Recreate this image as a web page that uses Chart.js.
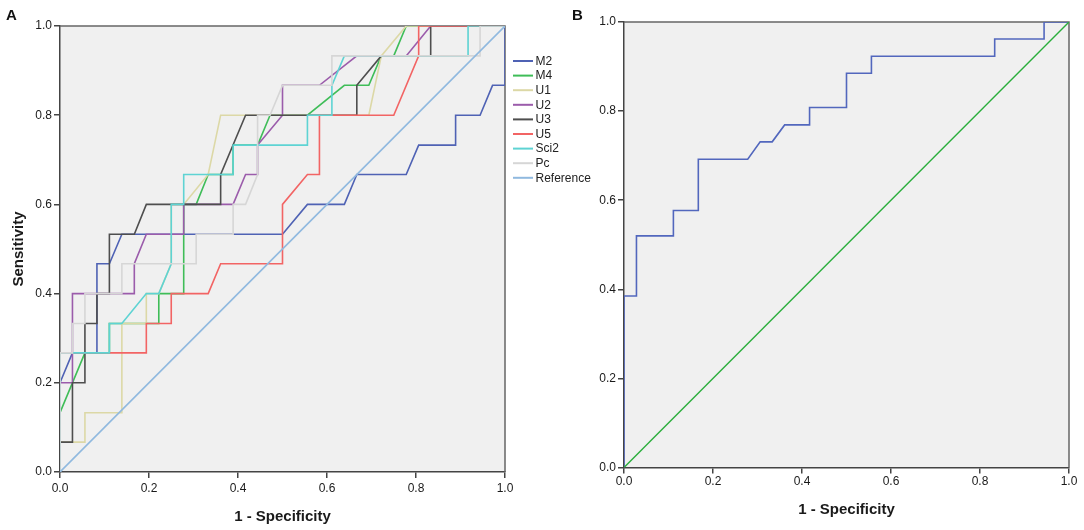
<!DOCTYPE html>
<html><head><meta charset="utf-8">
<script src="https://cdn.jsdelivr.net/npm/chart.js@4.4.0/dist/chart.umd.min.js"></script>
<style>
html,body{margin:0;padding:0;background:#fff;width:1084px;height:530px;overflow:hidden;font-family:"Liberation Sans",Arial,sans-serif;}
#ca{position:absolute;left:0;top:0;}
#cb{position:absolute;left:570px;top:0;}
.lab{position:absolute;font:bold 15px "Liberation Sans",Arial,sans-serif;line-height:15px;color:#111;}
</style></head><body>
<canvas id="ca" width="610" height="530"></canvas>
<canvas id="cb" width="514" height="530"></canvas>
<div class="lab" style="left:6px;top:7px">A</div>
<div class="lab" style="left:572px;top:7px">B</div>
<script>
// ---------- data: panel A (1 - specificity, sensitivity) ----------
const seriesNames = ['M2','M4','U1','U2','U3','U5','Sci2','Pc','Reference'];
const seriesColors = ['#4f62b4','#3fbd58','#dcd8a6','#9b5cab','#4e4e4e','#f26464','#5ed3d3','#d6d6d6','#90b9df'];

const M2_x = [0,0,0.028,0.083,0.083,0.111,0.139,0.5,0.556,0.639,0.667,0.778,0.806,0.889,0.889,0.944,0.972,1,1];
const M2_y = [0,0.2,0.267,0.267,0.467,0.467,0.533,0.533,0.6,0.6,0.667,0.667,0.733,0.733,0.8,0.8,0.867,0.867,1];

const M4_x = [0,0,0.056,0.111,0.111,0.222,0.222,0.278,0.278,0.306,0.333,0.389,0.389,0.444,0.472,0.556,0.639,0.694,0.722,0.75,0.778,1];
const M4_y = [0,0.133,0.267,0.267,0.333,0.333,0.4,0.4,0.6,0.6,0.667,0.667,0.733,0.733,0.8,0.8,0.867,0.867,0.933,0.933,1,1];

const U1_x = [0,0,0.056,0.056,0.139,0.139,0.194,0.194,0.222,0.25,0.25,0.278,0.333,0.361,0.417,0.694,0.722,0.778,1];
const U1_y = [0,0.067,0.067,0.133,0.133,0.333,0.333,0.4,0.4,0.467,0.6,0.6,0.667,0.8,0.8,0.8,0.933,1,1];

const U2_x = [0,0,0.028,0.028,0.056,0.167,0.167,0.194,0.278,0.278,0.389,0.417,0.444,0.444,0.5,0.5,0.583,0.667,0.778,0.833,1];
const U2_y = [0,0.2,0.2,0.4,0.4,0.4,0.467,0.533,0.533,0.6,0.6,0.667,0.667,0.733,0.8,0.867,0.867,0.933,0.933,1,1];

const U3_x = [0,0,0.028,0.028,0.056,0.056,0.083,0.083,0.111,0.111,0.167,0.194,0.361,0.361,0.417,0.667,0.667,0.722,0.833,0.833,1];
const U3_y = [0,0.067,0.067,0.2,0.2,0.333,0.333,0.4,0.4,0.533,0.533,0.6,0.6,0.667,0.8,0.8,0.867,0.933,0.933,1,1];

const U5_x = [0,0,0.194,0.194,0.25,0.25,0.333,0.361,0.5,0.5,0.556,0.583,0.583,0.75,0.806,0.806,1];
const U5_y = [0,0.267,0.267,0.333,0.333,0.4,0.4,0.467,0.467,0.6,0.667,0.667,0.8,0.8,0.933,1,1];

const Sci2_x = [0,0,0.111,0.111,0.139,0.194,0.222,0.25,0.25,0.278,0.278,0.389,0.389,0.556,0.556,0.611,0.611,0.639,0.917,0.917,1];
const Sci2_y = [0,0.267,0.267,0.333,0.333,0.4,0.4,0.467,0.6,0.6,0.667,0.667,0.733,0.733,0.8,0.8,0.867,0.933,0.933,1,1];

const Pc_x = [0,0,0.028,0.028,0.056,0.056,0.139,0.139,0.306,0.306,0.389,0.389,0.417,0.444,0.444,0.472,0.5,0.611,0.611,0.944,0.944,1];
const Pc_y = [0,0.267,0.267,0.333,0.333,0.4,0.4,0.467,0.467,0.533,0.533,0.6,0.6,0.667,0.8,0.8,0.867,0.867,0.933,0.933,1,1];

const Ref_x = [0,1];
const Ref_y = [0,1];

// ---------- data: panel B ----------
const B_x = [0,0,0.028,0.028,0.111,0.111,0.167,0.167,0.278,0.306,0.333,0.361,0.417,0.417,0.5,0.5,0.556,0.556,0.833,0.833,0.944,0.944,1];
const B_y = [0,0.385,0.385,0.52,0.52,0.577,0.577,0.692,0.692,0.731,0.731,0.769,0.769,0.808,0.808,0.885,0.885,0.923,0.923,0.962,0.962,1,1];
const BRef_x = [0,1];
const BRef_y = [0,1];

const tickLabels = ['0.0','0.2','0.4','0.6','0.8','1.0'];
const axisTitle = '1 - Specificity';
const yTitle = 'Sensitivity';

// ---------- helpers ----------
const FONT = '"Liberation Sans", Arial, sans-serif';
const pts = (xs, ys) => xs.map((x, i) => ({x: x, y: ys[i]}));

const framePlugin = {
  id: 'frame',
  beforeDraw(chart) {
    const {ctx, chartArea: a} = chart;
    ctx.save();
    ctx.fillStyle = '#f0f0f0';
    ctx.fillRect(a.left, a.top, a.right - a.left, a.bottom - a.top);
    ctx.restore();
  },
  beforeDatasetsDraw(chart) {
    const {ctx, chartArea: a} = chart;
    ctx.save();
    ctx.strokeStyle = '#666';
    ctx.lineWidth = 1.5;
    ctx.beginPath();
    ctx.moveTo(a.left, a.top);
    ctx.lineTo(a.right, a.top);
    ctx.lineTo(a.right, a.bottom);
    ctx.stroke();
    ctx.restore();
  }
};

const legendPlugin = {
  id: 'sideLegend',
  afterDraw(chart) {
    const ctx = chart.ctx;
    ctx.save();
    ctx.font = '12px ' + FONT;
    ctx.textBaseline = 'middle';
    ctx.textAlign = 'left';
    seriesNames.forEach((name, i) => {
      const y = 61 + i * 14.6;
      ctx.strokeStyle = seriesColors[i];
      ctx.lineWidth = 2;
      ctx.beginPath();
      ctx.moveTo(513, y);
      ctx.lineTo(533, y);
      ctx.stroke();
      ctx.fillStyle = '#222';
      ctx.fillText(name, 535.5, y + 0.5);
    });
    ctx.restore();
  }
};

function scales(yWidth, xHeight, xTickPad, showYTitle, xTitlePadBottom) {
  const common = {
    type: 'linear', min: 0, max: 1,
    grid: {display: true, drawOnChartArea: false, drawTicks: true, tickLength: 6, color: '#444', lineWidth: 1.5},
    border: {display: true, color: '#444', width: 1.5},
  };
  return {
    x: Object.assign({}, common, {
      ticks: {stepSize: 0.2, padding: xTickPad, color: '#1a1a1a', font: {family: FONT, size: 12},
              maxRotation: 0, callback: v => tickLabels[Math.round(v * 5)]},
      title: {display: true, text: axisTitle, color: '#1a1a1a', font: {family: FONT, size: 15, weight: 'bold'},
              padding: {top: 0, bottom: xTitlePadBottom}},
      afterFit: s => { s.height = xHeight; }
    }),
    y: Object.assign({}, common, {
      ticks: {stepSize: 0.2, padding: 2, color: '#1a1a1a', font: {family: FONT, size: 12},
              callback: v => tickLabels[Math.round(v * 5)]},
      title: {display: showYTitle, text: yTitle, color: '#1a1a1a', font: {family: FONT, size: 15, weight: 'bold'},
              padding: {top: 10, bottom: 0}},
      afterFit: s => { s.width = yWidth; }
    })
  };
}

// ---------- panel A ----------
const aX = [M2_x, M4_x, U1_x, U2_x, U3_x, U5_x, Sci2_x, Pc_x, Ref_x];
const aY = [M2_y, M4_y, U1_y, U2_y, U3_y, U5_y, Sci2_y, Pc_y, Ref_y];
new Chart(document.getElementById('ca'), {
  type: 'line',
  data: {
    datasets: seriesNames.map((n, i) => ({
      label: n,
      data: pts(aX[i], aY[i]),
      borderColor: seriesColors[i],
      borderWidth: 1.6,
      pointRadius: 0,
      tension: 0,
      fill: false,
      order: seriesNames.length - i
    }))
  },
  options: {
    responsive: false,
    animation: false,
    layout: {padding: {left: 0, top: 26, right: 105, bottom: 0}},
    plugins: {legend: {display: false}, tooltip: {enabled: false}},
    scales: scales(60, 58, 3, true, 4)
  },
  plugins: [framePlugin, legendPlugin]
});

// ---------- panel B ----------
new Chart(document.getElementById('cb'), {
  type: 'line',
  data: {
    datasets: [
      {label: 'ROC', data: pts(B_x, B_y), borderColor: '#5267bd', borderWidth: 1.6, pointRadius: 0, tension: 0, fill: false, order: 2},
      {label: 'Reference', data: pts(BRef_x, BRef_y), borderColor: '#2aae3c', borderWidth: 1.4, pointRadius: 0, tension: 0, fill: false, order: 1}
    ]
  },
  options: {
    responsive: false,
    animation: false,
    layout: {padding: {left: 0, top: 22, right: 15, bottom: 0}},
    plugins: {legend: {display: false}, tooltip: {enabled: false}},
    scales: scales(54, 62.5, 1, false, 11)
  },
  plugins: [framePlugin]
});
</script>
</body></html>
